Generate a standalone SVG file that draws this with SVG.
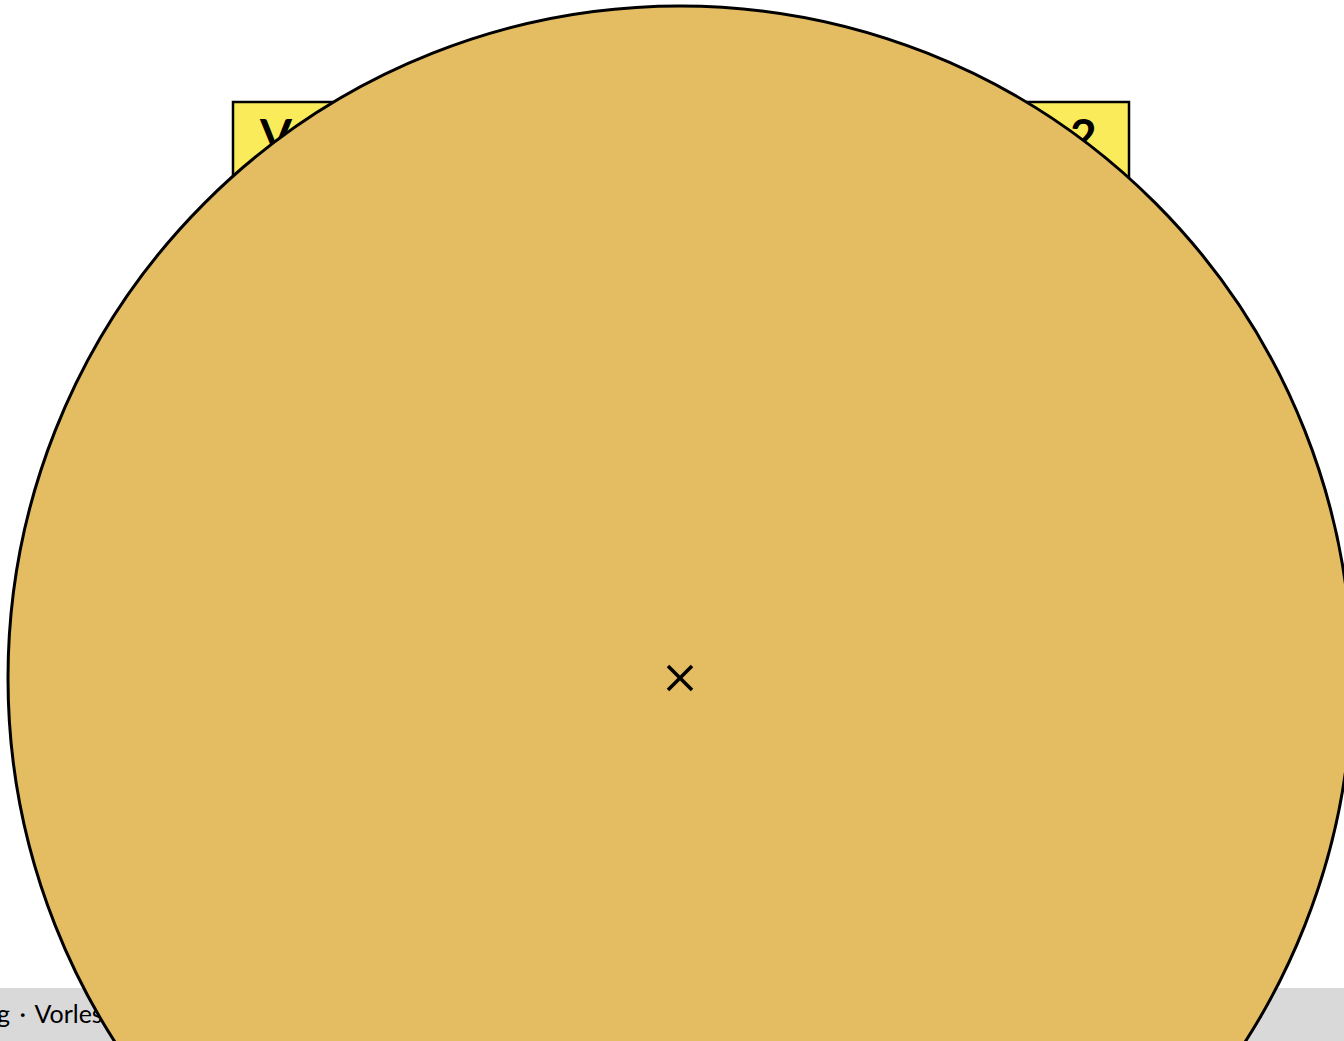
<svg xmlns="http://www.w3.org/2000/svg" width="1344" height="1041" viewBox="0 0 1344 1041">
<style>
.lbl{font-family:"Lato","Liberation Sans",sans-serif;fill:#000}
</style>
<rect x="0" y="0" width="1344" height="1041" fill="#fff"/>
<g id="footer">
<rect x="0" y="988" width="1344" height="53" fill="#d9d9d9"/>
<text class="lbl" x="-3" y="1023" font-size="25" word-spacing="3">g · Vorles</text>
</g>
<g id="title-box">
<rect x="233" y="102" width="896" height="140" fill="#faeb5a" stroke="#000" stroke-width="2.5"/>
<text class="lbl" x="260" y="152" font-size="46" font-weight="bold">V</text>
<text class="lbl" x="1070" y="152" font-size="46" font-weight="bold">2</text>
</g>
<g id="circle">
<circle cx="680" cy="678" r="672" fill="#e4bc62" stroke="#000" stroke-width="3"/>
</g>
<g id="center-mark" stroke="#000" stroke-width="3.5">
<line x1="668" y1="666" x2="692" y2="690"/>
<line x1="692" y1="666" x2="668" y2="690"/>
</g>
</svg>
